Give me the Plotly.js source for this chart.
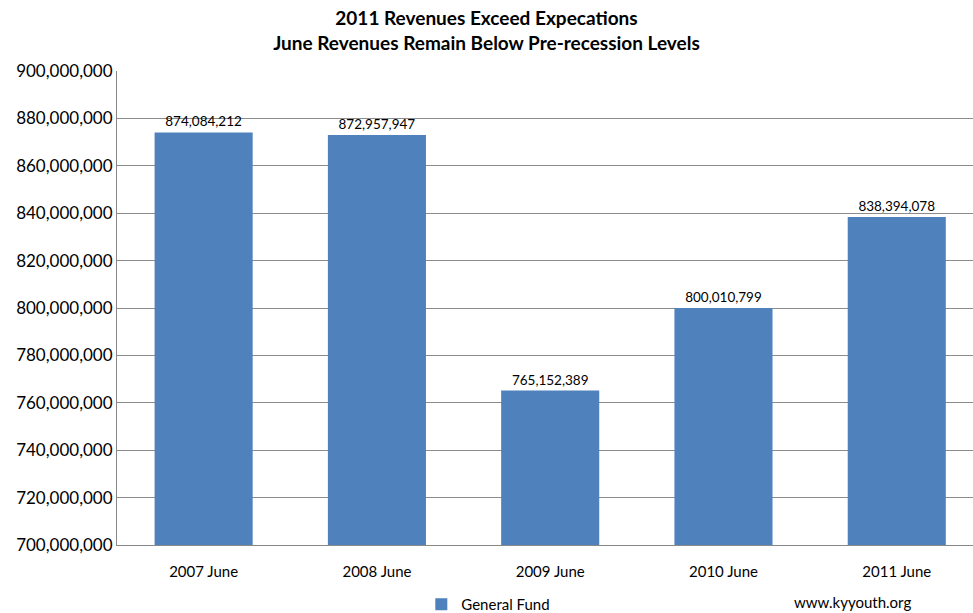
<!DOCTYPE html>
<html><head><meta charset="utf-8">
<script src="https://cdn.plot.ly/plotly-3.0.1.min.js"></script>
<style>html,body{margin:0;padding:0;background:#fff}</style>
</head><body>
<div id="chart" style="width:973px;height:613px"></div>
<script>
const categories = ["2007 June", "2008 June", "2009 June", "2010 June", "2011 June"];
const generalFund = [874084212, 872957947, 765152389, 800010799, 838394078];
const seriesName = "General Fund";
const tickVals = [700000000,720000000,740000000,760000000,780000000,800000000,820000000,840000000,860000000,880000000,900000000];

const fmt = v => v.toLocaleString('en-US');
const FONT = "Lato, 'Open Sans', sans-serif";

Plotly.newPlot('chart', [{
  type: 'bar',
  x: categories,
  y: generalFund,
  name: seriesName,
  marker: {color: '#4F81BD'},
  text: generalFund.map(fmt),
  textposition: 'outside',
  cliponaxis: false,
  textfont: {family: FONT, size: 13.5, color: '#000'},
  showlegend: true
}], {
  width: 973, height: 613,
  margin: {l: 117, r: 0, t: 71, b: 68, autoexpand: false},
  paper_bgcolor: '#fff', plot_bgcolor: '#fff',
  font: {family: FONT, color: '#000'},
  title: {text: '<b>2011 Revenues Exceed Expecations<br>June Revenues Remain Below Pre-recession Levels</b>',
          font: {family: FONT, size: 19, color: '#000'}, x: 0.5, xref: 'container', xanchor: 'center',
          y: 0.959, yref: 'container', yanchor: 'middle'},
  bargap: 0.434,
  xaxis: {type: 'category', range: [-0.5, 4.44], showline: true, linecolor: '#888', linewidth: 1, automargin: false,
          ticks: '', ticklabelstandoff: 13, tickfont: {family: FONT, size: 15, color: '#000'}, showgrid: false},
  yaxis: {range: [700000000, 900000000], tickvals: tickVals, ticktext: tickVals.map(fmt), automargin: false,
          showline: true, linecolor: '#888', gridcolor: '#8c8c8c', gridwidth: 1,
          ticks: '', ticklen: 0, tickfont: {family: FONT, size: 17, color: '#000'}, zeroline: false},
  legend: {orientation: 'h', xref: 'container', yref: 'container', x: 0.433, xanchor: 'left', y: 0.014, yanchor: 'middle',
           font: {family: FONT, size: 15, color: '#000'}, itemwidth: 30},
  annotations: [{text: 'www.kyyouth.org', xref: 'paper', yref: 'paper', x: (913-117)/856, y: -(602-545)/474,
                 xanchor: 'right', yanchor: 'middle', showarrow: false, font: {family: FONT, size: 15, color: '#000'}}]
}, {displayModeBar: false});
</script>
</body></html>
